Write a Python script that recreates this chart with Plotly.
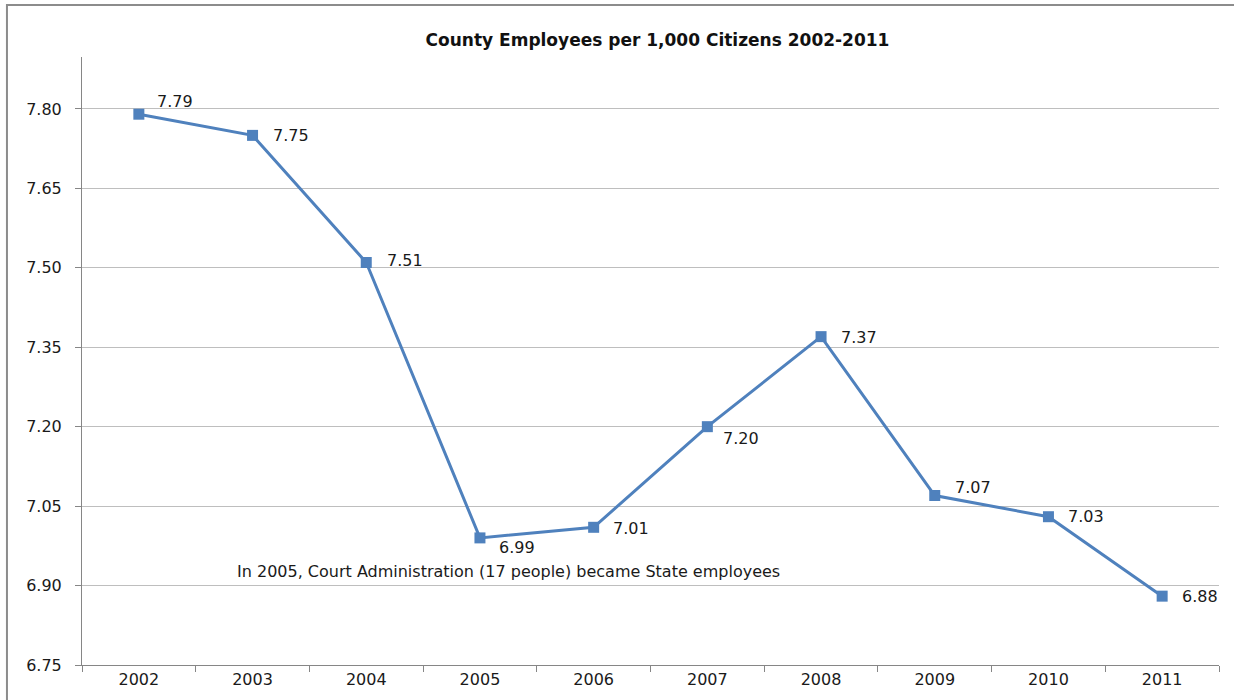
import plotly.graph_objects as go

# County staffing ratio by year
years = ["2002", "2003", "2004", "2005", "2006", "2007", "2008", "2009", "2010", "2011"]
employees_per_1000 = [7.79, 7.75, 7.51, 6.99, 7.01, 7.20, 7.37, 7.07, 7.03, 6.88]

# Pixel offsets of each value label from its marker
label_dx = [36, 38, 39, 37, 37, 34, 38, 38, 38, 38]
label_dy = [13, 0, 2, -10, -1, -12, -1, 8, 0, 0]

chart_title = "County Employees per 1,000 Citizens 2002-2011"
note_text = "In 2005, Court Administration (17 people) became State employees"

line_color = "#4F81BD"
axis_color = "#868686"
grid_color = "#BEBEBE"
num_font = dict(family="DejaVu Sans", size=16, color="#1a1a1a")

fig = go.Figure()
fig.add_trace(go.Scatter(
    x=years,
    y=employees_per_1000,
    mode="lines+markers",
    line=dict(color=line_color, width=3),
    marker=dict(symbol="square", size=11, color=line_color),
    showlegend=False,
    hoverinfo="x+y",
))

# Value labels: category serial index keeps numeric-looking names on the category axis
for i, (val, dx, dy) in enumerate(zip(employees_per_1000, label_dx, label_dy)):
    fig.add_annotation(
        x=i, y=val, text=f"{val:.2f}", showarrow=False,
        xshift=dx, yshift=dy, font=num_font,
        xanchor="center", yanchor="middle",
    )

fig.add_annotation(
    xref="paper", yref="paper", x=0.3747, y=0.153,
    text=note_text, showarrow=False,
    font=dict(family="DejaVu Sans", size=16, color="#1a1a1a"),
    xanchor="center", yanchor="middle",
)

# Outer chart frame
fig.add_shape(
    type="rect", xref="paper", yref="paper",
    x0=-0.066, x1=1.2, y0=-0.3, y1=1.0855,
    line=dict(color="#8C8C8C", width=2), fillcolor="rgba(0,0,0,0)",
    layer="above",
)

fig.update_layout(
    width=1234, height=700,
    margin=dict(l=82, r=15, t=57, b=35),
    paper_bgcolor="white", plot_bgcolor="white",
    title=dict(
        text=f"<b>{chart_title}</b>",
        x=657.5 / 1234, xanchor="center",
        y=1 - 40 / 700, yanchor="middle",
        font=dict(family="DejaVu Sans", size=17, color="#111111"),
    ),
    xaxis=dict(
        type="category", range=[-0.5, 9.5],
        showline=True, linecolor=axis_color, linewidth=1,
        ticks="outside", tickson="boundaries", ticklen=6, tickcolor=axis_color,
        showgrid=False, tickfont=num_font, fixedrange=True,
    ),
    yaxis=dict(
        range=[6.75, 7.898], tick0=6.75, dtick=0.15, tickformat=".2f",
        showline=True, linecolor=axis_color, linewidth=1,
        ticks="outside", ticklen=6, tickcolor=axis_color,
        showgrid=True, gridcolor=grid_color, gridwidth=1,
        zeroline=False, tickfont=num_font, ticklabelstandoff=10,
    ),
)

fig.write_html("out.html")
